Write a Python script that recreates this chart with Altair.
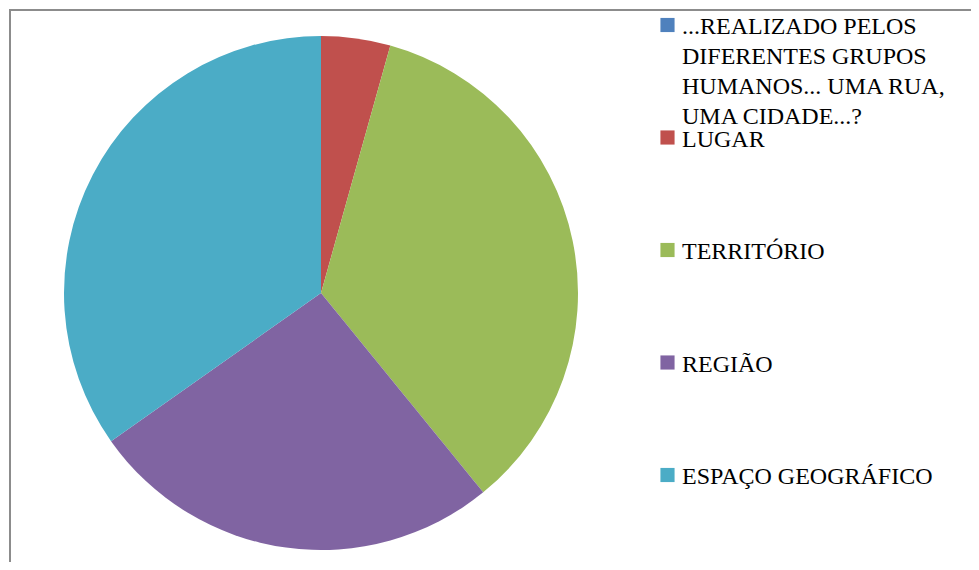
import altair as alt
import pandas as pd

categories = [
    "...REALIZADO PELOS DIFERENTES GRUPOS HUMANOS... UMA RUA, UMA CIDADE...?",
    "LUGAR",
    "TERRITÓRIO",
    "REGIÃO",
    "ESPAÇO GEOGRÁFICO",
]
values = [0, 1, 8, 6, 8]
legend_lines = [
    ["...REALIZADO PELOS", "DIFERENTES GRUPOS", "HUMANOS... UMA RUA,", "UMA CIDADE...?"],
    ["LUGAR"],
    ["TERRITÓRIO"],
    ["REGIÃO"],
    ["ESPAÇO GEOGRÁFICO"],
]
colors = ["#4F81BD", "#C0504D", "#9BBB59", "#8064A2", "#4BACC6"]

df = pd.DataFrame({
    "cat": categories,
    "value": values,
    "idx": list(range(len(categories))),
    "lines": legend_lines,
})

W, H = 961, 552

color = alt.Color("cat:N", scale=alt.Scale(domain=categories, range=colors), legend=None)
ypos = alt.Y("cat:N", scale=alt.Scale(type="point", domain=categories, range=[15, 465], padding=0), axis=None)

pie = alt.Chart(df).mark_arc(outerRadius=257).encode(
    theta=alt.Theta("value:Q", stack=True),
    color=color,
    order=alt.Order("idx:Q"),
    x=alt.value(311),
    y=alt.value(283),
)

squares = alt.Chart(df).mark_square(size=200, opacity=1).encode(
    x=alt.value(657.5),
    y=ypos,
    color=color,
)

labels = alt.Chart(df).mark_text(
    align="left", baseline="alphabetic", dy=9, font="Liberation Serif",
    fontSize=24, lineHeight=30, color="#000000",
).encode(
    x=alt.value(672),
    y=ypos,
    text="lines",
)

frame_left = alt.Chart(df).mark_rule(color="#8c8c8c", strokeWidth=2).encode(
    x=alt.value(0), y=alt.value(-1), y2=alt.value(H)
)
frame_top = alt.Chart(df).mark_rule(color="#8c8c8c", strokeWidth=2).encode(
    y=alt.value(0), x=alt.value(-1), x2=alt.value(W)
)

chart = alt.layer(frame_left, frame_top, pie, squares, labels).properties(
    width=W, height=H,
    padding={"left": 2, "top": 2, "right": 0, "bottom": 0},
    autosize=alt.AutoSizeParams(type="none"),
).configure_view(stroke=None)

chart.save("out.html", embed_options={"renderer": "svg", "actions": False})
